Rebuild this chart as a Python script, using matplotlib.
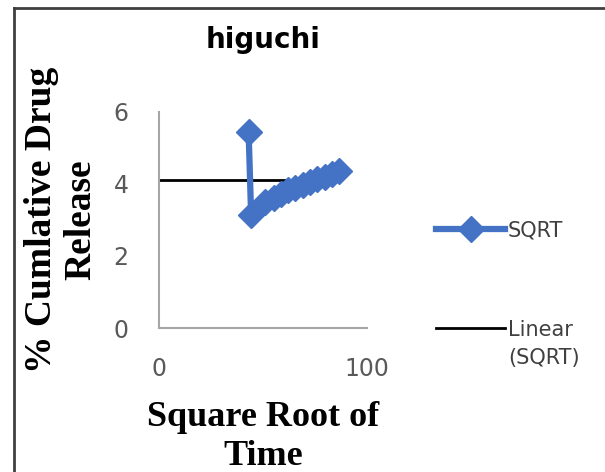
import matplotlib
matplotlib.use("Agg")
import numpy as np
import matplotlib.pyplot as plt
from matplotlib.lines import Line2D
from matplotlib.legend_handler import HandlerLine2D

# Data
sqrt_time = [43.0, 44.2, 51.0, 55.0, 58.5, 62.0, 65.5, 69.0, 72.5, 76.0, 79.5, 83.0, 86.5]
release = [5.45, 3.15, 3.50, 3.62, 3.72, 3.82, 3.90, 3.98, 4.06, 4.13, 4.20, 4.28, 4.36]
trend_x = [0, 85.6]
trend_y = [4.11, 4.11]
x_ticks = [0, 100]
y_ticks = [0, 2, 4, 6]

blue = "#4472C4"
fig = plt.figure(figsize=(6.05, 4.72), dpi=100)
ax = fig.add_axes([0.263, 0.305, 0.344, 0.458])

l1, = ax.plot(sqrt_time, release, color=blue, lw=4.5, marker="D", markersize=13,
              label="SQRT", zorder=3)
l2, = ax.plot(trend_x, trend_y, color="black", lw=2, label="Linear\n(SQRT)", zorder=2)

ax.set_xlim(0, 100)
ax.set_ylim(0, 6)
ax.set_xticks(x_ticks)
ax.set_yticks(y_ticks)
for s in ["top", "right"]:
    ax.spines[s].set_visible(False)
for s in ["left", "bottom"]:
    ax.spines[s].set_color("#A6A6A6")
    ax.spines[s].set_linewidth(1.5)
ax.tick_params(length=0, labelsize=17, labelcolor="#595959")
ax.tick_params(axis="y", pad=22)
ax.tick_params(axis="x", pad=21)

ax.set_title("higuchi", fontsize=20, fontweight="bold", pad=46, family="DejaVu Sans")
ax.set_ylabel("% Cumlative Drug\nRelease", fontsize=27, fontweight="bold",
              family="Liberation Serif", labelpad=11, linespacing=1.15)
ax.set_xlabel("Square Root of\nTime", fontsize=26, fontweight="bold",
              family="Liberation Serif", labelpad=14, linespacing=1.25)


class RaisedLine(HandlerLine2D):
    def __init__(self, offset, **kw):
        super().__init__(**kw)
        self.offset = offset

    def create_artists(self, legend, orig_handle, xdescent, ydescent, width, height,
                       fontsize, trans):
        arts = super().create_artists(legend, orig_handle, xdescent, ydescent, width,
                                      height, fontsize, trans)
        for a in arts:
            a.set_ydata(np.asarray(a.get_ydata()) + self.offset)
        return arts


leg = fig.legend(handles=[l1, l2], loc="upper left", bbox_to_anchor=(0.69, 0.5725),
                 frameon=False, fontsize=15, handlelength=3.3, labelspacing=3.8,
                 handletextpad=0.15, handler_map={l2: RaisedLine(11.5)})
for t in leg.get_texts():
    t.set_color("#404040")
    t.set_linespacing(1.5)

# border lines
fig.add_artist(Line2D([0.023, 0.023], [0, 0.983], color="#404040", lw=2, transform=fig.transFigure))
fig.add_artist(Line2D([0.023, 1.0], [0.983, 0.983], color="#404040", lw=2, transform=fig.transFigure))

fig.savefig("out.png", dpi=100)
